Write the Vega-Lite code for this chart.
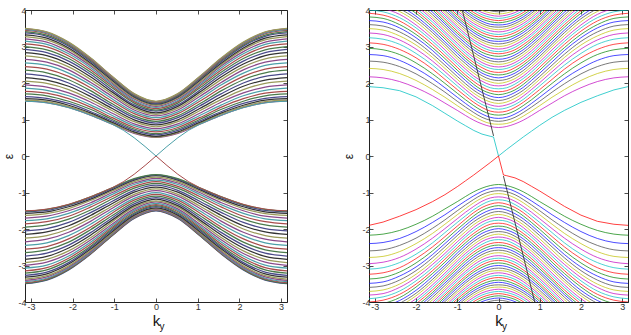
{
"$schema":"https://vega.github.io/schema/vega-lite/v6.json",
"background":"white",
"padding":{"left":2,"top":5,"right":0,"bottom":0},
"spacing":54,
"config":{
 "font":"Liberation Sans",
 "view":{"stroke":"#222222","strokeWidth":1},
 "axis":{"grid":false,"domain":false,"tickColor":"#222222","tickSize":-4,"tickWidth":0.8,"labelFontSize":9,"labelColor":"#333333","labelFont":"Liberation Sans","titleFont":"Liberation Sans","titleFontWeight":"normal","titleColor":"#111111","labelPadding":3,"minExtent":0},
 "line":{"strokeCap":"butt"}
},
"resolve":{"scale":{"color":"independent"}},
"datasets":{
"KL":[{"g":"L","k":[-3.1416,-2.618,-2.0944,-1.5708,-1.0472,-0.5236,0,0.5236,1.0472,1.5708,2.0944,2.618,3.1416]}],
"L":[
{"id":1,"g":"L","e":[-3.50,-3.40,-3.12,-2.69,-2.18,-1.71,-1.50,-1.71,-2.18,-2.69,-3.12,-3.40,-3.50]},
{"id":2,"g":"L","e":[-3.49,-3.39,-3.11,-2.68,-2.17,-1.70,-1.49,-1.70,-2.17,-2.68,-3.11,-3.39,-3.49]},
{"id":3,"g":"L","e":[-3.47,-3.37,-3.09,-2.67,-2.16,-1.69,-1.48,-1.69,-2.16,-2.67,-3.09,-3.37,-3.47]},
{"id":4,"g":"L","e":[-3.44,-3.35,-3.07,-2.65,-2.14,-1.68,-1.47,-1.68,-2.14,-2.65,-3.07,-3.35,-3.44]},
{"id":5,"g":"L","e":[-3.41,-3.31,-3.04,-2.62,-2.12,-1.66,-1.46,-1.66,-2.12,-2.62,-3.04,-3.31,-3.41]},
{"id":6,"g":"L","e":[-3.37,-3.28,-3.01,-2.59,-2.10,-1.64,-1.44,-1.64,-2.10,-2.59,-3.01,-3.28,-3.37]},
{"id":7,"g":"L","e":[-3.32,-3.23,-2.96,-2.55,-2.07,-1.62,-1.42,-1.62,-2.07,-2.55,-2.96,-3.23,-3.32]},
{"id":8,"g":"L","e":[-3.27,-3.18,-2.92,-2.51,-2.03,-1.59,-1.39,-1.59,-2.03,-2.51,-2.92,-3.18,-3.27]},
{"id":9,"g":"L","e":[-3.21,-3.12,-2.86,-2.47,-1.99,-1.56,-1.36,-1.56,-1.99,-2.47,-2.86,-3.12,-3.21]},
{"id":10,"g":"L","e":[-3.15,-3.06,-2.80,-2.42,-1.95,-1.52,-1.33,-1.52,-1.95,-2.42,-2.80,-3.06,-3.15]},
{"id":11,"g":"L","e":[-3.07,-2.99,-2.74,-2.36,-1.91,-1.49,-1.30,-1.49,-1.91,-2.36,-2.74,-2.99,-3.07]},
{"id":12,"g":"L","e":[-3.00,-2.91,-2.67,-2.30,-1.86,-1.45,-1.26,-1.45,-1.86,-2.30,-2.67,-2.91,-3.00]},
{"id":13,"g":"L","e":[-2.92,-2.83,-2.60,-2.24,-1.80,-1.40,-1.23,-1.40,-1.80,-2.24,-2.60,-2.83,-2.92]},
{"id":14,"g":"L","e":[-2.83,-2.75,-2.52,-2.17,-1.75,-1.36,-1.18,-1.36,-1.75,-2.17,-2.52,-2.75,-2.83]},
{"id":15,"g":"L","e":[-2.74,-2.66,-2.44,-2.10,-1.69,-1.31,-1.14,-1.31,-1.69,-2.10,-2.44,-2.66,-2.74]},
{"id":16,"g":"L","e":[-2.65,-2.57,-2.36,-2.02,-1.63,-1.26,-1.10,-1.26,-1.63,-2.02,-2.36,-2.57,-2.65]},
{"id":17,"g":"L","e":[-2.55,-2.48,-2.27,-1.95,-1.56,-1.21,-1.05,-1.21,-1.56,-1.95,-2.27,-2.48,-2.55]},
{"id":18,"g":"L","e":[-2.45,-2.38,-2.18,-1.87,-1.50,-1.16,-1.00,-1.16,-1.50,-1.87,-2.18,-2.38,-2.45]},
{"id":19,"g":"L","e":[-2.35,-2.28,-2.09,-1.79,-1.43,-1.10,-0.95,-1.10,-1.43,-1.79,-2.09,-2.28,-2.35]},
{"id":20,"g":"L","e":[-2.25,-2.18,-2.00,-1.71,-1.37,-1.05,-0.90,-1.05,-1.37,-1.71,-2.00,-2.18,-2.25]},
{"id":21,"g":"L","e":[-2.15,-2.08,-1.91,-1.63,-1.30,-0.99,-0.85,-0.99,-1.30,-1.63,-1.91,-2.08,-2.15]},
{"id":22,"g":"L","e":[-2.05,-1.99,-1.82,-1.55,-1.24,-0.94,-0.80,-0.94,-1.24,-1.55,-1.82,-1.99,-2.05]},
{"id":23,"g":"L","e":[-1.95,-1.89,-1.73,-1.48,-1.17,-0.88,-0.75,-0.88,-1.17,-1.48,-1.73,-1.89,-1.95]},
{"id":24,"g":"L","e":[-1.86,-1.80,-1.65,-1.40,-1.11,-0.83,-0.70,-0.83,-1.11,-1.40,-1.65,-1.80,-1.86]},
{"id":25,"g":"L","e":[-1.77,-1.72,-1.57,-1.34,-1.05,-0.78,-0.66,-0.78,-1.05,-1.34,-1.57,-1.72,-1.77]},
{"id":26,"g":"L","e":[-1.70,-1.65,-1.50,-1.28,-1.00,-0.74,-0.61,-0.74,-1.00,-1.28,-1.50,-1.65,-1.70]},
{"id":27,"g":"L","e":[-1.63,-1.58,-1.44,-1.22,-0.96,-0.70,-0.58,-0.70,-0.96,-1.22,-1.44,-1.58,-1.63]},
{"id":28,"g":"L","e":[-1.57,-1.53,-1.39,-1.18,-0.92,-0.66,-0.54,-0.66,-0.92,-1.18,-1.39,-1.53,-1.57]},
{"id":29,"g":"L","e":[-1.53,-1.49,-1.35,-1.15,-0.89,-0.64,-0.52,-0.64,-0.89,-1.15,-1.35,-1.49,-1.53]},
{"id":30,"g":"L","e":[-1.51,-1.46,-1.33,-1.12,-0.87,-0.62,-0.51,-0.62,-0.87,-1.12,-1.33,-1.46,-1.51]},
{"id":33,"g":"L","e":[1.51,1.46,1.33,1.12,0.87,0.62,0.51,0.62,0.87,1.12,1.33,1.46,1.51]},
{"id":34,"g":"L","e":[1.53,1.49,1.35,1.15,0.89,0.64,0.52,0.64,0.89,1.15,1.35,1.49,1.53]},
{"id":35,"g":"L","e":[1.57,1.53,1.39,1.18,0.92,0.66,0.54,0.66,0.92,1.18,1.39,1.53,1.57]},
{"id":36,"g":"L","e":[1.63,1.58,1.44,1.22,0.96,0.70,0.58,0.70,0.96,1.22,1.44,1.58,1.63]},
{"id":37,"g":"L","e":[1.70,1.65,1.50,1.28,1.00,0.74,0.61,0.74,1.00,1.28,1.50,1.65,1.70]},
{"id":38,"g":"L","e":[1.77,1.72,1.57,1.34,1.05,0.78,0.66,0.78,1.05,1.34,1.57,1.72,1.77]},
{"id":39,"g":"L","e":[1.86,1.80,1.65,1.40,1.11,0.83,0.70,0.83,1.11,1.40,1.65,1.80,1.86]},
{"id":40,"g":"L","e":[1.95,1.89,1.73,1.48,1.17,0.88,0.75,0.88,1.17,1.48,1.73,1.89,1.95]},
{"id":41,"g":"L","e":[2.05,1.99,1.82,1.55,1.24,0.94,0.80,0.94,1.24,1.55,1.82,1.99,2.05]},
{"id":42,"g":"L","e":[2.15,2.08,1.91,1.63,1.30,0.99,0.85,0.99,1.30,1.63,1.91,2.08,2.15]},
{"id":43,"g":"L","e":[2.25,2.18,2.00,1.71,1.37,1.05,0.90,1.05,1.37,1.71,2.00,2.18,2.25]},
{"id":44,"g":"L","e":[2.35,2.28,2.09,1.79,1.43,1.10,0.95,1.10,1.43,1.79,2.09,2.28,2.35]},
{"id":45,"g":"L","e":[2.45,2.38,2.18,1.87,1.50,1.16,1.00,1.16,1.50,1.87,2.18,2.38,2.45]},
{"id":46,"g":"L","e":[2.55,2.48,2.27,1.95,1.56,1.21,1.05,1.21,1.56,1.95,2.27,2.48,2.55]},
{"id":47,"g":"L","e":[2.65,2.57,2.36,2.02,1.63,1.26,1.10,1.26,1.63,2.02,2.36,2.57,2.65]},
{"id":48,"g":"L","e":[2.74,2.66,2.44,2.10,1.69,1.31,1.14,1.31,1.69,2.10,2.44,2.66,2.74]},
{"id":49,"g":"L","e":[2.83,2.75,2.52,2.17,1.75,1.36,1.18,1.36,1.75,2.17,2.52,2.75,2.83]},
{"id":50,"g":"L","e":[2.92,2.83,2.60,2.24,1.80,1.40,1.23,1.40,1.80,2.24,2.60,2.83,2.92]},
{"id":51,"g":"L","e":[3.00,2.91,2.67,2.30,1.86,1.45,1.26,1.45,1.86,2.30,2.67,2.91,3.00]},
{"id":52,"g":"L","e":[3.07,2.99,2.74,2.36,1.91,1.49,1.30,1.49,1.91,2.36,2.74,2.99,3.07]},
{"id":53,"g":"L","e":[3.15,3.06,2.80,2.42,1.95,1.52,1.33,1.52,1.95,2.42,2.80,3.06,3.15]},
{"id":54,"g":"L","e":[3.21,3.12,2.86,2.47,1.99,1.56,1.36,1.56,1.99,2.47,2.86,3.12,3.21]},
{"id":55,"g":"L","e":[3.27,3.18,2.92,2.51,2.03,1.59,1.39,1.59,2.03,2.51,2.92,3.18,3.27]},
{"id":56,"g":"L","e":[3.32,3.23,2.96,2.55,2.07,1.62,1.42,1.62,2.07,2.55,2.96,3.23,3.32]},
{"id":57,"g":"L","e":[3.37,3.28,3.01,2.59,2.10,1.64,1.44,1.64,2.10,2.59,3.01,3.28,3.37]},
{"id":58,"g":"L","e":[3.41,3.31,3.04,2.62,2.12,1.66,1.46,1.66,2.12,2.62,3.04,3.31,3.41]},
{"id":59,"g":"L","e":[3.44,3.35,3.07,2.65,2.14,1.68,1.47,1.68,2.14,2.65,3.07,3.35,3.44]},
{"id":60,"g":"L","e":[3.47,3.37,3.09,2.67,2.16,1.69,1.48,1.69,2.16,2.67,3.09,3.37,3.47]},
{"id":61,"g":"L","e":[3.49,3.39,3.11,2.68,2.17,1.70,1.49,1.70,2.17,2.68,3.11,3.39,3.49]},
{"id":62,"g":"L","e":[3.50,3.40,3.12,2.69,2.18,1.71,1.50,1.71,2.18,2.69,3.12,3.40,3.50]}
],
"LE":[
{"id":31,"k":[-3.1416,-2.8798,-2.618,-2.3562,-2.0944,-1.8326,-1.5708,-1.309,-1.0472,-0.7854,-0.5236,-0.2618,0,0.2618,0.5236,0.7854,1.0472,1.309,1.5708,1.8326,2.0944,2.3562,2.618,2.8798,3.1416],"e":[-1.5,-1.489,-1.455,-1.399,-1.323,-1.228,-1.118,-0.996,-0.866,-0.707,-0.5,-0.259,0,-0.259,-0.5,-0.707,-0.866,-0.996,-1.118,-1.228,-1.323,-1.399,-1.455,-1.489,-1.5]},
{"id":32,"k":[-3.1416,-2.8798,-2.618,-2.3562,-2.0944,-1.8326,-1.5708,-1.309,-1.0472,-0.7854,-0.5236,-0.2618,0,0.2618,0.5236,0.7854,1.0472,1.309,1.5708,1.8326,2.0944,2.3562,2.618,2.8798,3.1416],"e":[1.5,1.489,1.455,1.399,1.323,1.228,1.118,0.996,0.866,0.707,0.5,0.259,0,0.259,0.5,0.707,0.866,0.996,1.118,1.228,1.323,1.399,1.455,1.489,1.5]}
],
"KR":[
{"g":11,"k":[-3.1416,-2.8,-2.4,-2,-1.6,-1.3,-1,-0.8,-0.6,-0.4,-0.2,0,0.2,0.4,0.6,0.8,1,1.3,1.6,2,2.4,2.8,3.1416]},
{"g":10,"k":[-2.8,-2.4,-2,-1.6,-1.3,-1,-0.8,-0.6,-0.4,-0.2,0,0.2,0.4,0.6,0.8,1,1.3,1.6,2,2.4,2.8]},
{"g":9,"k":[-2.4,-2,-1.6,-1.3,-1,-0.8,-0.6,-0.4,-0.2,0,0.2,0.4,0.6,0.8,1,1.3,1.6,2,2.4]},
{"g":8,"k":[-2,-1.6,-1.3,-1,-0.8,-0.6,-0.4,-0.2,0,0.2,0.4,0.6,0.8,1,1.3,1.6,2]},
{"g":7,"k":[-1.6,-1.3,-1,-0.8,-0.6,-0.4,-0.2,0,0.2,0.4,0.6,0.8,1,1.3,1.6]},
{"g":6,"k":[-1.3,-1,-0.8,-0.6,-0.4,-0.2,0,0.2,0.4,0.6,0.8,1,1.3]},
{"g":5,"k":[-1,-0.8,-0.6,-0.4,-0.2,0,0.2,0.4,0.6,0.8,1]},
{"g":4,"k":[-0.8,-0.6,-0.4,-0.2,0,0.2,0.4,0.6,0.8]},
{"g":3,"k":[-0.6,-0.4,-0.2,0,0.2,0.4,0.6]},
{"g":2,"k":[-0.4,-0.2,0,0.2,0.4]}
],
"R":[
{"id":47,"g":11,"e":[2.17,2.14,2.04,1.87,1.65,1.45,1.25,1.11,0.98,0.88,0.81,0.78,0.81,0.88,0.98,1.11,1.25,1.45,1.65,1.87,2.04,2.14,2.17]},
{"id":48,"g":11,"e":[2.40,2.37,2.26,2.07,1.82,1.61,1.38,1.23,1.09,0.97,0.89,0.87,0.89,0.97,1.09,1.23,1.38,1.61,1.82,2.07,2.26,2.37,2.40]},
{"id":49,"g":11,"e":[2.60,2.57,2.45,2.25,1.98,1.75,1.50,1.34,1.19,1.06,0.98,0.95,0.98,1.06,1.19,1.34,1.50,1.75,1.98,2.25,2.45,2.57,2.60]},
{"id":50,"g":11,"e":[2.78,2.75,2.62,2.40,2.12,1.87,1.61,1.44,1.28,1.15,1.06,1.03,1.06,1.15,1.28,1.44,1.61,1.87,2.12,2.40,2.62,2.75,2.78]},
{"id":51,"g":11,"e":[2.95,2.91,2.78,2.55,2.25,1.99,1.72,1.54,1.38,1.24,1.15,1.12,1.15,1.24,1.38,1.54,1.72,1.99,2.25,2.55,2.78,2.91,2.95]},
{"id":52,"g":11,"e":[3.10,3.06,2.92,2.69,2.38,2.10,1.82,1.64,1.47,1.33,1.23,1.20,1.23,1.33,1.47,1.64,1.82,2.10,2.38,2.69,2.92,3.06,3.10]},
{"id":53,"g":11,"e":[3.24,3.20,3.06,2.81,2.49,2.21,1.92,1.73,1.55,1.41,1.32,1.28,1.32,1.41,1.55,1.73,1.92,2.21,2.49,2.81,3.06,3.20,3.24]},
{"id":54,"g":11,"e":[3.37,3.33,3.18,2.93,2.60,2.31,2.01,1.82,1.64,1.49,1.40,1.36,1.40,1.49,1.64,1.82,2.01,2.31,2.60,2.93,3.18,3.33,3.37]},
{"id":55,"g":11,"e":[3.49,3.45,3.29,3.04,2.70,2.40,2.10,1.90,1.72,1.58,1.48,1.44,1.48,1.58,1.72,1.90,2.10,2.40,2.70,3.04,3.29,3.45,3.49]},
{"id":56,"g":11,"e":[3.60,3.56,3.40,3.14,2.79,2.49,2.18,1.98,1.80,1.66,1.56,1.52,1.56,1.66,1.80,1.98,2.18,2.49,2.79,3.14,3.40,3.56,3.60]},
{"id":57,"g":11,"e":[3.71,3.67,3.51,3.24,2.89,2.58,2.27,2.07,1.88,1.74,1.64,1.60,1.64,1.74,1.88,2.07,2.27,2.58,2.89,3.24,3.51,3.67,3.71]},
{"id":58,"g":11,"e":[3.81,3.77,3.60,3.33,2.97,2.67,2.35,2.15,1.96,1.81,1.72,1.68,1.72,1.81,1.96,2.15,2.35,2.67,2.97,3.33,3.60,3.77,3.81]},
{"id":59,"g":11,"e":[3.91,3.86,3.70,3.42,3.06,2.75,2.43,2.22,2.04,1.89,1.79,1.76,1.79,1.89,2.04,2.22,2.43,2.75,3.06,3.42,3.70,3.86,3.91]},
{"id":60,"g":11,"e":[4.00,3.95,3.79,3.51,3.14,2.83,2.51,2.30,2.12,1.97,1.87,1.84,1.87,1.97,2.12,2.30,2.51,2.83,3.14,3.51,3.79,3.95,4.00]},
{"id":61,"g":11,"e":[4.09,4.04,3.88,3.59,3.22,2.91,2.58,2.38,2.19,2.05,1.95,1.92,1.95,2.05,2.19,2.38,2.58,2.91,3.22,3.59,3.88,4.04,4.09]},
{"id":62,"g":10,"e":[4.13,3.96,3.68,3.30,2.99,2.66,2.45,2.27,2.12,2.03,1.99,2.03,2.12,2.27,2.45,2.66,2.99,3.30,3.68,3.96,4.13]},
{"id":63,"g":9,"e":[4.04,3.76,3.38,3.06,2.73,2.53,2.34,2.20,2.10,2.07,2.10,2.20,2.34,2.53,2.73,3.06,3.38,3.76,4.04]},
{"id":64,"g":9,"e":[4.12,3.83,3.45,3.13,2.81,2.60,2.42,2.27,2.18,2.14,2.18,2.27,2.42,2.60,2.81,3.13,3.45,3.83,4.12]},
{"id":65,"g":9,"e":[4.20,3.91,3.53,3.21,2.88,2.67,2.49,2.34,2.25,2.22,2.25,2.34,2.49,2.67,2.88,3.21,3.53,3.91,4.20]},
{"id":66,"g":9,"e":[4.28,3.98,3.60,3.28,2.95,2.74,2.56,2.42,2.32,2.29,2.32,2.42,2.56,2.74,2.95,3.28,3.60,3.98,4.28]},
{"id":67,"g":8,"e":[4.05,3.67,3.35,3.02,2.81,2.63,2.49,2.40,2.37,2.40,2.49,2.63,2.81,3.02,3.35,3.67,4.05]},
{"id":68,"g":8,"e":[4.12,3.74,3.41,3.09,2.88,2.70,2.56,2.47,2.44,2.47,2.56,2.70,2.88,3.09,3.41,3.74,4.12]},
{"id":69,"g":8,"e":[4.19,3.80,3.48,3.16,2.95,2.77,2.63,2.54,2.51,2.54,2.63,2.77,2.95,3.16,3.48,3.80,4.19]},
{"id":70,"g":8,"e":[4.26,3.87,3.55,3.22,3.02,2.84,2.70,2.61,2.58,2.61,2.70,2.84,3.02,3.22,3.55,3.87,4.26]},
{"id":71,"g":8,"e":[4.33,3.94,3.62,3.29,3.09,2.91,2.77,2.68,2.65,2.68,2.77,2.91,3.09,3.29,3.62,3.94,4.33]},
{"id":72,"g":7,"e":[4.01,3.68,3.36,3.16,2.98,2.84,2.76,2.73,2.76,2.84,2.98,3.16,3.36,3.68,4.01]},
{"id":73,"g":7,"e":[4.07,3.75,3.42,3.22,3.05,2.91,2.83,2.80,2.83,2.91,3.05,3.22,3.42,3.75,4.07]},
{"id":74,"g":7,"e":[4.13,3.81,3.49,3.29,3.12,2.98,2.89,2.86,2.89,2.98,3.12,3.29,3.49,3.81,4.13]},
{"id":75,"g":7,"e":[4.19,3.87,3.55,3.35,3.18,3.05,2.96,2.93,2.96,3.05,3.18,3.35,3.55,3.87,4.19]},
{"id":76,"g":7,"e":[4.25,3.93,3.61,3.42,3.25,3.12,3.03,3.00,3.03,3.12,3.25,3.42,3.61,3.93,4.25]},
{"id":77,"g":7,"e":[4.31,3.99,3.68,3.48,3.31,3.18,3.10,3.07,3.10,3.18,3.31,3.48,3.68,3.99,4.31]},
{"id":78,"g":6,"e":[4.06,3.74,3.55,3.38,3.25,3.16,3.14,3.16,3.25,3.38,3.55,3.74,4.06]},
{"id":79,"g":6,"e":[4.12,3.80,3.61,3.44,3.31,3.23,3.20,3.23,3.31,3.44,3.61,3.80,4.12]},
{"id":80,"g":6,"e":[4.18,3.86,3.67,3.51,3.38,3.30,3.27,3.30,3.38,3.51,3.67,3.86,4.18]},
{"id":81,"g":6,"e":[4.23,3.92,3.73,3.57,3.44,3.36,3.33,3.36,3.44,3.57,3.73,3.92,4.23]},
{"id":82,"g":6,"e":[4.29,3.98,3.79,3.63,3.51,3.43,3.40,3.43,3.51,3.63,3.79,3.98,4.29]},
{"id":83,"g":5,"e":[4.04,3.85,3.69,3.57,3.49,3.46,3.49,3.57,3.69,3.85,4.04]},
{"id":84,"g":5,"e":[4.10,3.91,3.75,3.63,3.55,3.53,3.55,3.63,3.75,3.91,4.10]},
{"id":85,"g":5,"e":[4.15,3.97,3.81,3.69,3.61,3.59,3.61,3.69,3.81,3.97,4.15]},
{"id":86,"g":4,"e":[4.03,3.87,3.75,3.68,3.65,3.68,3.75,3.87,4.03]},
{"id":87,"g":4,"e":[4.09,3.93,3.81,3.74,3.71,3.74,3.81,3.93,4.09]},
{"id":88,"g":4,"e":[4.15,3.99,3.87,3.80,3.77,3.80,3.87,3.99,4.15]},
{"id":89,"g":3,"e":[4.05,3.93,3.86,3.83,3.86,3.93,4.05]},
{"id":90,"g":3,"e":[4.11,3.99,3.92,3.89,3.92,3.99,4.11]},
{"id":91,"g":2,"e":[4.05,3.98,3.95,3.98,4.05]},
{"id":44,"g":11,"e":[-2.17,-2.14,-2.04,-1.87,-1.65,-1.45,-1.25,-1.11,-0.98,-0.88,-0.81,-0.78,-0.81,-0.88,-0.98,-1.11,-1.25,-1.45,-1.65,-1.87,-2.04,-2.14,-2.17]},
{"id":43,"g":11,"e":[-2.40,-2.37,-2.26,-2.07,-1.82,-1.61,-1.38,-1.23,-1.09,-0.97,-0.89,-0.87,-0.89,-0.97,-1.09,-1.23,-1.38,-1.61,-1.82,-2.07,-2.26,-2.37,-2.40]},
{"id":42,"g":11,"e":[-2.60,-2.57,-2.45,-2.25,-1.98,-1.75,-1.50,-1.34,-1.19,-1.06,-0.98,-0.95,-0.98,-1.06,-1.19,-1.34,-1.50,-1.75,-1.98,-2.25,-2.45,-2.57,-2.60]},
{"id":41,"g":11,"e":[-2.78,-2.75,-2.62,-2.40,-2.12,-1.87,-1.61,-1.44,-1.28,-1.15,-1.06,-1.03,-1.06,-1.15,-1.28,-1.44,-1.61,-1.87,-2.12,-2.40,-2.62,-2.75,-2.78]},
{"id":40,"g":11,"e":[-2.95,-2.91,-2.78,-2.55,-2.25,-1.99,-1.72,-1.54,-1.38,-1.24,-1.15,-1.12,-1.15,-1.24,-1.38,-1.54,-1.72,-1.99,-2.25,-2.55,-2.78,-2.91,-2.95]},
{"id":39,"g":11,"e":[-3.10,-3.06,-2.92,-2.69,-2.38,-2.10,-1.82,-1.64,-1.47,-1.33,-1.23,-1.20,-1.23,-1.33,-1.47,-1.64,-1.82,-2.10,-2.38,-2.69,-2.92,-3.06,-3.10]},
{"id":38,"g":11,"e":[-3.24,-3.20,-3.06,-2.81,-2.49,-2.21,-1.92,-1.73,-1.55,-1.41,-1.32,-1.28,-1.32,-1.41,-1.55,-1.73,-1.92,-2.21,-2.49,-2.81,-3.06,-3.20,-3.24]},
{"id":37,"g":11,"e":[-3.37,-3.33,-3.18,-2.93,-2.60,-2.31,-2.01,-1.82,-1.64,-1.49,-1.40,-1.36,-1.40,-1.49,-1.64,-1.82,-2.01,-2.31,-2.60,-2.93,-3.18,-3.33,-3.37]},
{"id":36,"g":11,"e":[-3.49,-3.45,-3.29,-3.04,-2.70,-2.40,-2.10,-1.90,-1.72,-1.58,-1.48,-1.44,-1.48,-1.58,-1.72,-1.90,-2.10,-2.40,-2.70,-3.04,-3.29,-3.45,-3.49]},
{"id":35,"g":11,"e":[-3.60,-3.56,-3.40,-3.14,-2.79,-2.49,-2.18,-1.98,-1.80,-1.66,-1.56,-1.52,-1.56,-1.66,-1.80,-1.98,-2.18,-2.49,-2.79,-3.14,-3.40,-3.56,-3.60]},
{"id":34,"g":11,"e":[-3.71,-3.67,-3.51,-3.24,-2.89,-2.58,-2.27,-2.07,-1.88,-1.74,-1.64,-1.60,-1.64,-1.74,-1.88,-2.07,-2.27,-2.58,-2.89,-3.24,-3.51,-3.67,-3.71]},
{"id":33,"g":11,"e":[-3.81,-3.77,-3.60,-3.33,-2.97,-2.67,-2.35,-2.15,-1.96,-1.81,-1.72,-1.68,-1.72,-1.81,-1.96,-2.15,-2.35,-2.67,-2.97,-3.33,-3.60,-3.77,-3.81]},
{"id":32,"g":11,"e":[-3.91,-3.86,-3.70,-3.42,-3.06,-2.75,-2.43,-2.22,-2.04,-1.89,-1.79,-1.76,-1.79,-1.89,-2.04,-2.22,-2.43,-2.75,-3.06,-3.42,-3.70,-3.86,-3.91]},
{"id":31,"g":11,"e":[-4.00,-3.95,-3.79,-3.51,-3.14,-2.83,-2.51,-2.30,-2.12,-1.97,-1.87,-1.84,-1.87,-1.97,-2.12,-2.30,-2.51,-2.83,-3.14,-3.51,-3.79,-3.95,-4.00]},
{"id":30,"g":11,"e":[-4.09,-4.04,-3.88,-3.59,-3.22,-2.91,-2.58,-2.38,-2.19,-2.05,-1.95,-1.92,-1.95,-2.05,-2.19,-2.38,-2.58,-2.91,-3.22,-3.59,-3.88,-4.04,-4.09]},
{"id":29,"g":10,"e":[-4.13,-3.96,-3.68,-3.30,-2.99,-2.66,-2.45,-2.27,-2.12,-2.03,-1.99,-2.03,-2.12,-2.27,-2.45,-2.66,-2.99,-3.30,-3.68,-3.96,-4.13]},
{"id":28,"g":9,"e":[-4.04,-3.76,-3.38,-3.06,-2.73,-2.53,-2.34,-2.20,-2.10,-2.07,-2.10,-2.20,-2.34,-2.53,-2.73,-3.06,-3.38,-3.76,-4.04]},
{"id":27,"g":9,"e":[-4.12,-3.83,-3.45,-3.13,-2.81,-2.60,-2.42,-2.27,-2.18,-2.14,-2.18,-2.27,-2.42,-2.60,-2.81,-3.13,-3.45,-3.83,-4.12]},
{"id":26,"g":9,"e":[-4.20,-3.91,-3.53,-3.21,-2.88,-2.67,-2.49,-2.34,-2.25,-2.22,-2.25,-2.34,-2.49,-2.67,-2.88,-3.21,-3.53,-3.91,-4.20]},
{"id":25,"g":9,"e":[-4.28,-3.98,-3.60,-3.28,-2.95,-2.74,-2.56,-2.42,-2.32,-2.29,-2.32,-2.42,-2.56,-2.74,-2.95,-3.28,-3.60,-3.98,-4.28]},
{"id":24,"g":8,"e":[-4.05,-3.67,-3.35,-3.02,-2.81,-2.63,-2.49,-2.40,-2.37,-2.40,-2.49,-2.63,-2.81,-3.02,-3.35,-3.67,-4.05]},
{"id":23,"g":8,"e":[-4.12,-3.74,-3.41,-3.09,-2.88,-2.70,-2.56,-2.47,-2.44,-2.47,-2.56,-2.70,-2.88,-3.09,-3.41,-3.74,-4.12]},
{"id":22,"g":8,"e":[-4.19,-3.80,-3.48,-3.16,-2.95,-2.77,-2.63,-2.54,-2.51,-2.54,-2.63,-2.77,-2.95,-3.16,-3.48,-3.80,-4.19]},
{"id":21,"g":8,"e":[-4.26,-3.87,-3.55,-3.22,-3.02,-2.84,-2.70,-2.61,-2.58,-2.61,-2.70,-2.84,-3.02,-3.22,-3.55,-3.87,-4.26]},
{"id":20,"g":8,"e":[-4.33,-3.94,-3.62,-3.29,-3.09,-2.91,-2.77,-2.68,-2.65,-2.68,-2.77,-2.91,-3.09,-3.29,-3.62,-3.94,-4.33]},
{"id":19,"g":7,"e":[-4.01,-3.68,-3.36,-3.16,-2.98,-2.84,-2.76,-2.73,-2.76,-2.84,-2.98,-3.16,-3.36,-3.68,-4.01]},
{"id":18,"g":7,"e":[-4.07,-3.75,-3.42,-3.22,-3.05,-2.91,-2.83,-2.80,-2.83,-2.91,-3.05,-3.22,-3.42,-3.75,-4.07]},
{"id":17,"g":7,"e":[-4.13,-3.81,-3.49,-3.29,-3.12,-2.98,-2.89,-2.86,-2.89,-2.98,-3.12,-3.29,-3.49,-3.81,-4.13]},
{"id":16,"g":7,"e":[-4.19,-3.87,-3.55,-3.35,-3.18,-3.05,-2.96,-2.93,-2.96,-3.05,-3.18,-3.35,-3.55,-3.87,-4.19]},
{"id":15,"g":7,"e":[-4.25,-3.93,-3.61,-3.42,-3.25,-3.12,-3.03,-3.00,-3.03,-3.12,-3.25,-3.42,-3.61,-3.93,-4.25]},
{"id":14,"g":7,"e":[-4.31,-3.99,-3.68,-3.48,-3.31,-3.18,-3.10,-3.07,-3.10,-3.18,-3.31,-3.48,-3.68,-3.99,-4.31]},
{"id":13,"g":6,"e":[-4.06,-3.74,-3.55,-3.38,-3.25,-3.16,-3.14,-3.16,-3.25,-3.38,-3.55,-3.74,-4.06]},
{"id":12,"g":6,"e":[-4.12,-3.80,-3.61,-3.44,-3.31,-3.23,-3.20,-3.23,-3.31,-3.44,-3.61,-3.80,-4.12]},
{"id":11,"g":6,"e":[-4.18,-3.86,-3.67,-3.51,-3.38,-3.30,-3.27,-3.30,-3.38,-3.51,-3.67,-3.86,-4.18]},
{"id":10,"g":6,"e":[-4.23,-3.92,-3.73,-3.57,-3.44,-3.36,-3.33,-3.36,-3.44,-3.57,-3.73,-3.92,-4.23]},
{"id":9,"g":6,"e":[-4.29,-3.98,-3.79,-3.63,-3.51,-3.43,-3.40,-3.43,-3.51,-3.63,-3.79,-3.98,-4.29]},
{"id":8,"g":5,"e":[-4.04,-3.85,-3.69,-3.57,-3.49,-3.46,-3.49,-3.57,-3.69,-3.85,-4.04]},
{"id":7,"g":5,"e":[-4.10,-3.91,-3.75,-3.63,-3.55,-3.53,-3.55,-3.63,-3.75,-3.91,-4.10]},
{"id":6,"g":5,"e":[-4.15,-3.97,-3.81,-3.69,-3.61,-3.59,-3.61,-3.69,-3.81,-3.97,-4.15]},
{"id":5,"g":4,"e":[-4.03,-3.87,-3.75,-3.68,-3.65,-3.68,-3.75,-3.87,-4.03]},
{"id":4,"g":4,"e":[-4.09,-3.93,-3.81,-3.74,-3.71,-3.74,-3.81,-3.93,-4.09]},
{"id":3,"g":4,"e":[-4.15,-3.99,-3.87,-3.80,-3.77,-3.80,-3.87,-3.99,-4.15]},
{"id":2,"g":3,"e":[-4.05,-3.93,-3.86,-3.83,-3.86,-3.93,-4.05]},
{"id":1,"g":3,"e":[-4.11,-3.99,-3.92,-3.89,-3.92,-3.99,-4.11]},
{"id":0,"g":2,"e":[-4.05,-3.98,-3.95,-3.98,-4.05]}
],
"RE":[
{"id":46,"k":[-3.1416,-2.8,-2.4,-2,-1.6,-1.3,-1,-0.8,-0.6,-0.4,-0.2,-0.12,0,0.2,0.4,0.6,0.8,1,1.3,1.6,2,2.4,2.8,3.1416],"e":[1.90,1.87,1.79,1.62,1.38,1.17,0.96,0.83,0.70,0.60,0.54,0.52,0,0.18,0.35,0.52,0.68,0.84,1.06,1.25,1.47,1.65,1.81,1.90]},
{"id":45,"k":[-3.1416,-2.8,-2.4,-2,-1.6,-1.3,-1,-0.8,-0.6,-0.4,-0.2,0,0.12,0.2,0.4,0.6,0.8,1,1.3,1.6,2,2.4,2.8,3.1416],"e":[-1.90,-1.81,-1.65,-1.47,-1.25,-1.06,-0.84,-0.68,-0.52,-0.35,-0.18,0,-0.52,-0.54,-0.60,-0.70,-0.83,-0.96,-1.17,-1.38,-1.62,-1.79,-1.87,-1.90]}
],
"S":[
{"s":"a","k":-0.9,"e":4.1},{"s":"a","k":-0.12,"e":0.55},
{"s":"b","k":0.12,"e":-0.55},{"s":"b","k":0.9,"e":-4.1}
]
},
"hconcat":[
{
"width":262,"height":292,
"title":{"text":"y","orient":"bottom","fontSize":10,"fontWeight":"normal","color":"#111111","dx":6,"offset":-6},
"resolve":{"axis":{"x":"independent","y":"independent"}},
"layer":[
 {"data":{"name":"L"},
  "transform":[{"lookup":"g","from":{"data":{"name":"KL"},"key":"g","fields":["k"]}},{"flatten":["k","e"]}],
  "mark":{"type":"line","interpolate":"monotone","clip":true,"strokeWidth":1.25},
  "encoding":{
   "x":{"field":"k","type":"quantitative","scale":{"domain":[-3.1416,3.1416],"nice":false,"zero":false},"axis":{"values":[-3,-2,-1,0,1,2,3],"labelExpr":"''+datum.value","title":"k","titleFontSize":15,"titlePadding":2,"labelPadding":4}},
   "y":{"field":"e","type":"quantitative","scale":{"domain":[-4,4],"nice":false,"zero":false},"axis":{"values":[-4,-3,-2,-1,0,1,2,3,4],"labelExpr":"''+datum.value","title":"ε","titleFontSize":12,"titlePadding":2}},
   "color":{"field":"id","type":"ordinal","scale":{"range":["#4a4a8a","#4a7a4a","#a84c4c","#4ca0a8","#8a4a8a","#9a9a5a","#333333"]},"legend":null}
  }},
 {"data":{"name":"LE"},
  "transform":[{"flatten":["k","e"]}],
  "mark":{"type":"line","interpolate":"linear","clip":true,"strokeWidth":1},
  "encoding":{
   "x":{"field":"k","type":"quantitative","scale":{"domain":[-3.1416,3.1416],"nice":false,"zero":false},"axis":{"orient":"top","values":[-3,-2,-1,0,1,2,3],"labels":false,"title":null}},
   "y":{"field":"e","type":"quantitative","scale":{"domain":[-4,4],"nice":false,"zero":false},"axis":{"orient":"right","values":[-4,-3,-2,-1,0,1,2,3,4],"labels":false,"title":null}},
   "color":{"field":"id","type":"ordinal","legend":null}
  }}
]
},
{
"width":259,"height":292,
"title":{"text":"y","orient":"bottom","fontSize":10,"fontWeight":"normal","color":"#111111","dx":6,"offset":-6},
"resolve":{"axis":{"x":"independent","y":"independent"}},
"layer":[
 {"data":{"name":"R"},
  "transform":[{"lookup":"g","from":{"data":{"name":"KR"},"key":"g","fields":["k"]}},{"flatten":["k","e"]}],
  "mark":{"type":"line","interpolate":"monotone","clip":true,"strokeWidth":1,"opacity":0.7},
  "encoding":{
   "x":{"field":"k","type":"quantitative","scale":{"domain":[-3.1416,3.1416],"nice":false,"zero":false},"axis":{"values":[-3,-2,-1,0,1,2,3],"labelExpr":"''+datum.value","title":"k","titleFontSize":15,"titlePadding":2,"labelPadding":4}},
   "y":{"field":"e","type":"quantitative","scale":{"domain":[-4,4],"nice":false,"zero":false},"axis":{"values":[-4,-3,-2,-1,0,1,2,3,4],"labelExpr":"''+datum.value","title":"ε","titleFontSize":12,"titlePadding":6}},
   "color":{"field":"id","type":"ordinal","scale":{"range":["#404040","#0000ff","#008000","#ff0000","#00bfbf","#bf00bf","#bfbf00"]},"legend":null}
  }},
 {"data":{"name":"RE"},
  "transform":[{"flatten":["k","e"]}],
  "mark":{"type":"line","interpolate":"linear","clip":true,"strokeWidth":1,"opacity":0.75},
  "encoding":{
   "x":{"field":"k","type":"quantitative","scale":{"domain":[-3.1416,3.1416],"nice":false,"zero":false},"axis":{"orient":"top","values":[-3,-2,-1,0,1,2,3],"labels":false,"title":null}},
   "y":{"field":"e","type":"quantitative","scale":{"domain":[-4,4],"nice":false,"zero":false},"axis":{"orient":"right","values":[-4,-3,-2,-1,0,1,2,3,4],"labels":false,"title":null}},
   "color":{"field":"id","type":"ordinal","legend":null}
  }},
 {"data":{"name":"S"},
  "mark":{"type":"line","interpolate":"linear","clip":true,"strokeWidth":1,"color":"#2a2a2a","opacity":0.85},
  "encoding":{
   "x":{"field":"k","type":"quantitative","scale":{"domain":[-3.1416,3.1416],"nice":false,"zero":false},"axis":null},
   "y":{"field":"e","type":"quantitative","scale":{"domain":[-4,4],"nice":false,"zero":false},"axis":null},
   "detail":{"field":"s","type":"nominal"}
  }}
]
}
]
}
